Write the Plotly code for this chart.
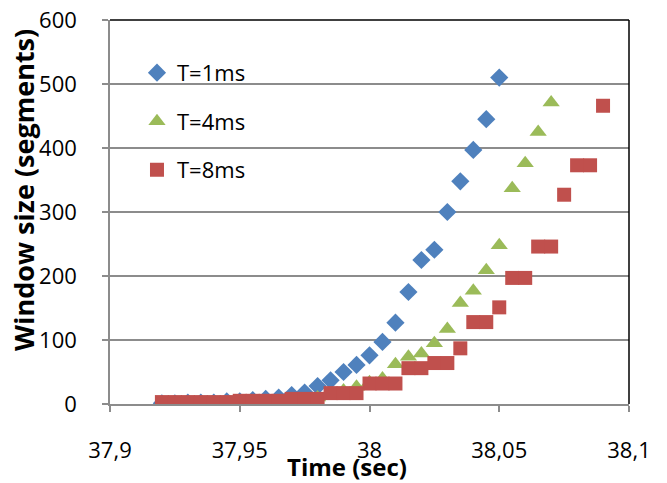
import plotly.graph_objects as go

# ---- data ----
t1_time = [37.92, 37.925, 37.93, 37.935, 37.94, 37.945, 37.95, 37.955, 37.96, 37.965,
           37.97, 37.975, 37.98, 37.985, 37.99, 37.995, 38.0, 38.005, 38.01, 38.015,
           38.02, 38.025, 38.03, 38.035, 38.04, 38.045, 38.05]
t1_win = [1, 1, 2, 2, 2, 4, 4, 6, 8, 10,
          14, 18, 28, 37, 50, 61, 76, 97, 127, 175,
          225, 241, 300, 348, 397, 445, 510]

t4_time = [37.92, 37.925, 37.93, 37.935, 37.94, 37.945, 37.95, 37.955, 37.96, 37.965,
           37.97, 37.975, 37.98, 37.985, 37.99, 37.995, 38.0, 38.005, 38.01, 38.015,
           38.02, 38.025, 38.03, 38.035, 38.04, 38.045, 38.05, 38.055, 38.06, 38.065,
           38.07]
t4_win = [1, 1, 1, 1, 1, 2, 2, 3, 3, 4,
          5, 7, 10, 15, 21, 27, 34, 40, 62, 74,
          79, 95, 117, 158, 177, 209, 248, 337, 376, 425,
          471]

t8_time = [37.92, 37.925, 37.93, 37.935, 37.94, 37.945, 37.95, 37.955, 37.96, 37.965,
           37.97, 37.975, 37.98, 37.985, 37.99, 37.995, 38.0, 38.005, 38.01, 38.015,
           38.02, 38.025, 38.03, 38.035, 38.04, 38.045, 38.05, 38.055, 38.06, 38.065,
           38.07, 38.075, 38.08, 38.085, 38.09]
t8_win = [3, 3, 3, 3, 3, 3, 5, 5, 5, 5,
          8, 8, 8, 17, 17, 17, 32, 32, 32, 56,
          56, 64, 64, 87, 128, 128, 151, 197, 197, 246,
          246, 327, 373, 373, 466]

series_names = ["T=1ms", "T=4ms", "T=8ms"]

x_tickvals = [37.9, 37.95, 38.0, 38.05, 38.1]
x_ticktext = ["37,9", "37,95", "38", "38,05", "38,1"]
y_tickvals = [0, 100, 200, 300, 400, 500, 600]
y_ticktext = ["0", "100", "200", "300", "400", "500", "600"]

x_title = "Time (sec)"
y_title = "Window size (segments)"

FONT = "Open Sans"
grid = "#8c8c8c"

fig = go.Figure()
fig.add_trace(go.Scatter(x=t1_time, y=t1_win, mode="markers", name=series_names[0],
                         legendgroup="a",
                         marker=dict(symbol="diamond", size=14, color="#4F81BD")))
fig.add_trace(go.Scatter(x=t4_time, y=t4_win, mode="markers", name=series_names[1],
                         legendgroup="b",
                         marker=dict(symbol="triangle-up", size=15, color="#9BBB59")))
fig.add_trace(go.Scatter(x=t8_time, y=t8_win, mode="markers", name=series_names[2],
                         legendgroup="c",
                         marker=dict(symbol="square", size=14, color="#C0504D")))

# page body has an 8px margin, so the figure is 8px smaller than the window
fig.update_layout(
    width=659, height=475,
    margin=dict(l=102, r=38, t=12, b=79),
    paper_bgcolor="white", plot_bgcolor="white",
    font=dict(family=FONT, size=22, color="black"),
    showlegend=True,
    legend=dict(x=0.052, y=0.917, xanchor="left", yanchor="top",
                bgcolor="rgba(0,0,0,0)", tracegroupgap=17,
                font=dict(family=FONT, size=22), itemwidth=30),
)
fig.update_xaxes(
    range=[37.9, 38.1], tickvals=x_tickvals, ticktext=x_ticktext,
    showgrid=False, showline=True, linecolor=grid, linewidth=1.5,
    ticks="outside", ticklen=6, tickcolor=grid, tickwidth=1.5,
    ticklabelstandoff=20, zeroline=False, automargin=False,
    ticklabeloverflow="allow",
)
fig.update_yaxes(
    range=[0, 600], tickvals=y_tickvals, ticktext=y_ticktext,
    showgrid=True, gridcolor=grid, gridwidth=1.5,
    showline=True, linecolor=grid, linewidth=1.5,
    ticks="outside", ticklen=6, tickcolor=grid, tickwidth=1.5,
    ticklabelstandoff=21, zeroline=False, automargin=False,
    ticklabeloverflow="allow",
)
# axis titles
fig.add_annotation(text="<b>" + x_title + "</b>", xref="paper", yref="paper",
                   x=0.4576, y=-0.164, xanchor="center", yanchor="middle",
                   showarrow=False, font=dict(family=FONT, size=24))
fig.add_annotation(text="<b>" + y_title + "</b>", xref="paper", yref="paper",
                   x=-0.168, y=0.557, xanchor="center", yanchor="middle",
                   textangle=-90, showarrow=False, font=dict(family=FONT, size=27))
# black frame on top and right of the plot area
fig.add_shape(type="line", xref="paper", yref="paper", x0=0, x1=1, y0=1, y1=1,
              line=dict(color="black", width=1.5))
fig.add_shape(type="line", xref="paper", yref="paper", x0=1, x1=1, y0=0, y1=1,
              line=dict(color="black", width=1.5))

fig.write_html("out.html")
